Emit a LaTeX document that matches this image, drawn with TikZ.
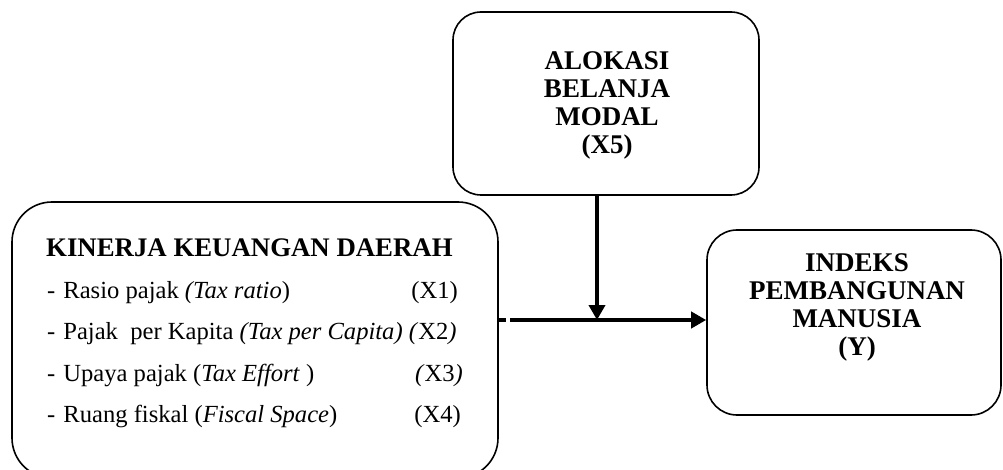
\documentclass[tikz,border=0pt]{standalone}
\usepackage{fontspec}
\setmainfont{Liberation Serif}
\usetikzlibrary{arrows.meta}
\newcommand\kkBold{\fontsize{27}{28}\selectfont\bfseries}
\newcommand\kkHead{\fontsize{26.8}{30}\selectfont\bfseries}
\newcommand\kkItem{\fontsize{24.6}{28}\selectfont}
\begin{document}
\begin{tikzpicture}[x=1pt,y=-1pt,
  box/.style={draw, line width=1.6pt, rounded corners=#1, inner sep=0pt},
  boxtext/.style={align=center, font=\kkBold, inner sep=0pt, anchor=north},
  item/.style={anchor=base west, font=\kkItem, inner sep=0pt},
  code/.style={anchor=base east, font=\kkItem, inner sep=0pt},
  conn/.style={line width=4pt, -{Triangle[length=15pt,width=16pt]}}]
\useasboundingbox (0,0) rectangle (1003,470);
% boxes
\node[box=28pt, minimum width=306pt, minimum height=183pt] (alok) at (606,103.5) {};
\node[box=40pt, minimum width=486pt, minimum height=276pt] (kin) at (255,340) {};
\node[box=30pt, minimum width=294pt, minimum height=185pt] (ipm) at (854,322.5) {};
% texts
\node[boxtext] (alokt) at (607,51) {ALOKASI\\BELANJA\\MODAL\\(X5)};
\node[boxtext] (ipmt) at (857,253) {INDEKS\\PEMBANGUNAN\\MANUSIA\\(Y)};
\node[anchor=base west, font=\kkHead, inner sep=0pt] (kinh) at (46,256) {KINERJA KEUANGAN DAERAH};
\node[item] (i1) at (47,298) {-\hspace{8pt}Rasio pajak \textit{(Tax ratio})};
\node[item] (i2) at (47,339) {-\hspace{8pt}Pajak\ \ per Kapita \textit{(Tax per Capita) (}X2\textit{)}};
\node[item] (i3) at (47,381) {-\hspace{8pt}Upaya pajak (\textit{Tax Effort} )};
\node[item] (i4) at (47,422) {-\hspace{8pt}Ruang fiskal (\textit{Fiscal Space})};
\node[code] (c1) at (458,298) {(X1)};
\node[code] (c3) at (463,381) {\textit{(}X3\textit{)}};
\node[code] (c4) at (461,422) {(X4)};
% connectors
\coordinate (j) at (597,320);
\draw[conn] (alok.south -| j) -- (j);
\draw[conn, dash pattern=on 7pt off 4pt on 400pt] (kin.east |- j) -- (ipm.west |- j);
\end{tikzpicture}
\end{document}
